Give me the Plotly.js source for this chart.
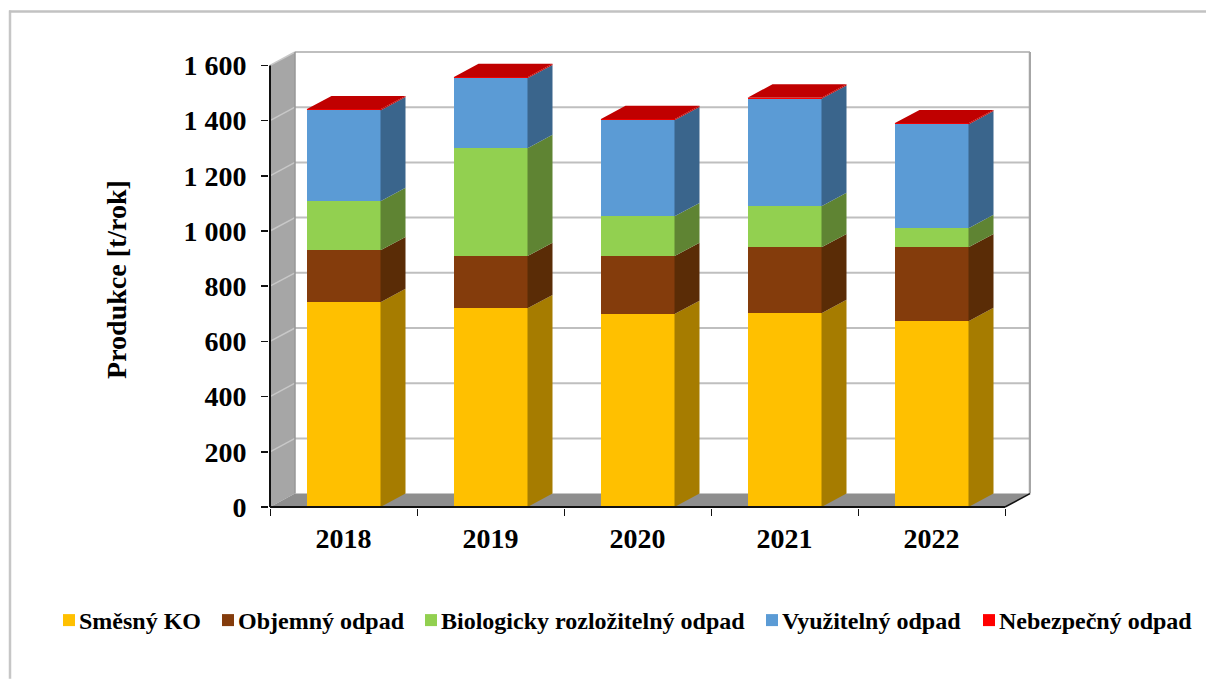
<!DOCTYPE html>
<html><head><meta charset="utf-8">
<script src="https://cdn.plot.ly/plotly-3.0.1.min.js"></script>
<style>html,body{margin:0;padding:0;background:#fff;overflow:hidden}</style>
</head><body><div id="chart" style="width:1206px;height:679px"></div>
<script>
const years = ['2018','2019','2020','2021','2022'];
const smesny = [742,720,699,702,673];
const objemny = [188,189,210,239,268];
const bio = [178,391,144,149,69];
const vyuzitelny = [329,253,348,389,376];
const nebezpecny = [4,4,4,4,4];
const names = ['Směsný KO','Objemný odpad','Biologicky rozložitelný odpad','Využitelný odpad','Nebezpečný odpad'];
const frontColors = ['#ffc000','#843c0c','#92d050','#5b9bd5','#ff0000'];
const sideColors = ['#a67c00','#5a2c06','#5f8433','#3a658c','#c00000'];
const yTicks = [0,200,400,600,800,1000,1200,1400,1600];
const yLabels = ['0','200','400','600','800','1 000','1 200','1 400','1 600'];
const legendTextX = [79,238,441,782,999];

const W=1206,H=679, pxX=147, pxY=442/1600, depthPxX=25, depthPxY=13.4, pad=1;
const dx=depthPxX/pxX, dy=depthPxY/pxY, barW=74/147;
const x0=-0.5, x1=4.5, yMax=1600;
const L=270-pad,R=1030+pad,B=507+pad,T=507-(yMax*pxY+depthPxY)-pad;
const series=[smesny,objemny,bio,vyuzitelny,nebezpecny];
const xs=years.map((_,i)=>i);
const legendId=k=>k===0?'legend':'legend'+(k+1);

const traces=[];
series.forEach((s,k)=>traces.push({type:'bar',x:xs,y:s,name:names[k],width:barW,legend:legendId(k),
  marker:{color:frontColors[k],line:{width:0}},hoverinfo:'name+y'}));
const tot=years.map(()=>0);
series.forEach((s,k)=>{
  const px=[],py=[];
  s.forEach((v,i)=>{
    const a=tot[i],b=a+v,xr=i+barW/2;
    px.push(xr,xr+dx,xr+dx,xr,xr,null);
    py.push(a,a+dy,b+dy,b,a,null);
    tot[i]=b;
  });
  traces.push({type:'scatter',mode:'lines',x:px,y:py,fill:'toself',fillcolor:sideColors[k],
    line:{width:0,color:sideColors[k]},showlegend:false,hoverinfo:'skip'});
});
const tx=[],ty=[];
tot.forEach((t,i)=>{
  const l=i-barW/2,r=i+barW/2;
  tx.push(l,r,r+dx,l+dx,l,null);
  ty.push(t,t,t+dy,t+dy,t,null);
});
traces.push({type:'scatter',mode:'lines',x:tx,y:ty,fill:'toself',fillcolor:sideColors[4],
  line:{width:0,color:sideColors[4]},showlegend:false,hoverinfo:'skip'});

const poly=(pts,fill,layer)=>({type:'path',xref:'x',yref:'y',layer:layer||'below',
  path:'M'+pts.map(p=>p.join(',')).join('L')+'Z',fillcolor:fill,line:{width:0}});
const seg=(a,b,c,color,w,layer)=>({type:'line',xref:a,yref:'y',x0:b[0],y0:b[1],x1:c[0],y1:c[1],
  layer:layer||'below',line:{color:color,width:w}});
const shapes=[];
const px2x=p=>(p-L)/(R-L), py2y=p=>(B-p)/(B-T);
shapes.push({type:'line',xref:'paper',yref:'paper',x0:px2x(10),x1:px2x(10),y0:py2y(10),y1:py2y(H),layer:'below',line:{color:'#c6c6c6',width:2.5}});
shapes.push({type:'line',xref:'paper',yref:'paper',x0:px2x(9),x1:px2x(W),y0:py2y(11),y1:py2y(11),layer:'below',line:{color:'#c2c2c2',width:2.5}});
shapes.push(poly([[x0,0],[x0+dx,dy],[x0+dx,yMax+dy],[x0,yMax]],'#a6a6a6'));
yTicks.slice(1).forEach(v=>{
  shapes.push(seg('x',[x0,v],[x0+dx,v+dy],'#c8c8c8',1.5));
  shapes.push(seg('x',[x0+dx,v+dy],[x1+dx,v+dy],'#bfbfbf',2));
});
shapes.push(poly([[x0,0],[x1,0],[x1+dx,dy],[x0+dx,dy]],'#8e8e8e'));
shapes.push(seg('x',[x0+dx,dy],[x0+dx,yMax+dy],'#979797',1.5));
shapes.push(seg('x',[x1+dx,dy],[x1+dx,yMax+dy],'#a6a6a6',2.5));
shapes.push(seg('x',[x1,0],[x1+dx,dy],'#111111',1.5));
shapes.push(seg('x',[x0,0],[x0,yMax],'#111111',2,'above'));
shapes.push(seg('x',[x0,0],[x1,0],'#111111',2,'above'));

const font={family:'"Liberation Serif","Times New Roman",serif',color:'#000'};
const layout={
  width:W,height:H,autosize:false,paper_bgcolor:'#fff',plot_bgcolor:'rgba(0,0,0,0)',
  margin:{l:L,r:W-R,t:T,b:H-B,pad:0},
  barmode:'stack',showlegend:true,shapes:shapes,
  xaxis:{range:[x0-pad/pxX,x1+dx+pad/pxX],tickmode:'array',tickvals:xs,ticktext:years.map(y=>'<b>'+y+'</b>'),
    ticks:'',showgrid:false,zeroline:false,showline:false,ticklabelstandoff:11,
    tickfont:Object.assign({size:28},font),
    minor:{tick0:-0.5,dtick:1,ticks:'outside',ticklen:7,tickwidth:1,tickcolor:'#111',showgrid:false}},
  yaxis:{range:[-pad/pxY,yMax+dy+pad/pxY],tickmode:'array',tickvals:yTicks,ticktext:yLabels.map(t=>'<b>'+t+'</b>'),
    ticks:'outside',ticklen:7,tickwidth:1.5,tickcolor:'#111',showgrid:false,zeroline:false,showline:false,
    automargin:true,ticklabelstandoff:9,tickfont:Object.assign({size:28},font),
    title:{text:'<b>Produkce [t/rok]</b>',font:Object.assign({size:28},font),standoff:48}},
};
legendTextX.forEach((tx0,k)=>{
  layout[legendId(k)]={orientation:'h',xref:'container',yref:'container',x:(tx0-40)/W,xanchor:'left',
    y:1-598/H,yanchor:'top',font:Object.assign({size:24,weight:700},font),
    bgcolor:'rgba(0,0,0,0)',borderwidth:0};
});
Plotly.newPlot('chart',traces,layout,{displayModeBar:false,staticPlot:true}).then(gd=>{
  gd.querySelectorAll('.legendsymbols').forEach(n=>n.setAttribute('transform','translate(10,0)'));
});
</script></body></html>
